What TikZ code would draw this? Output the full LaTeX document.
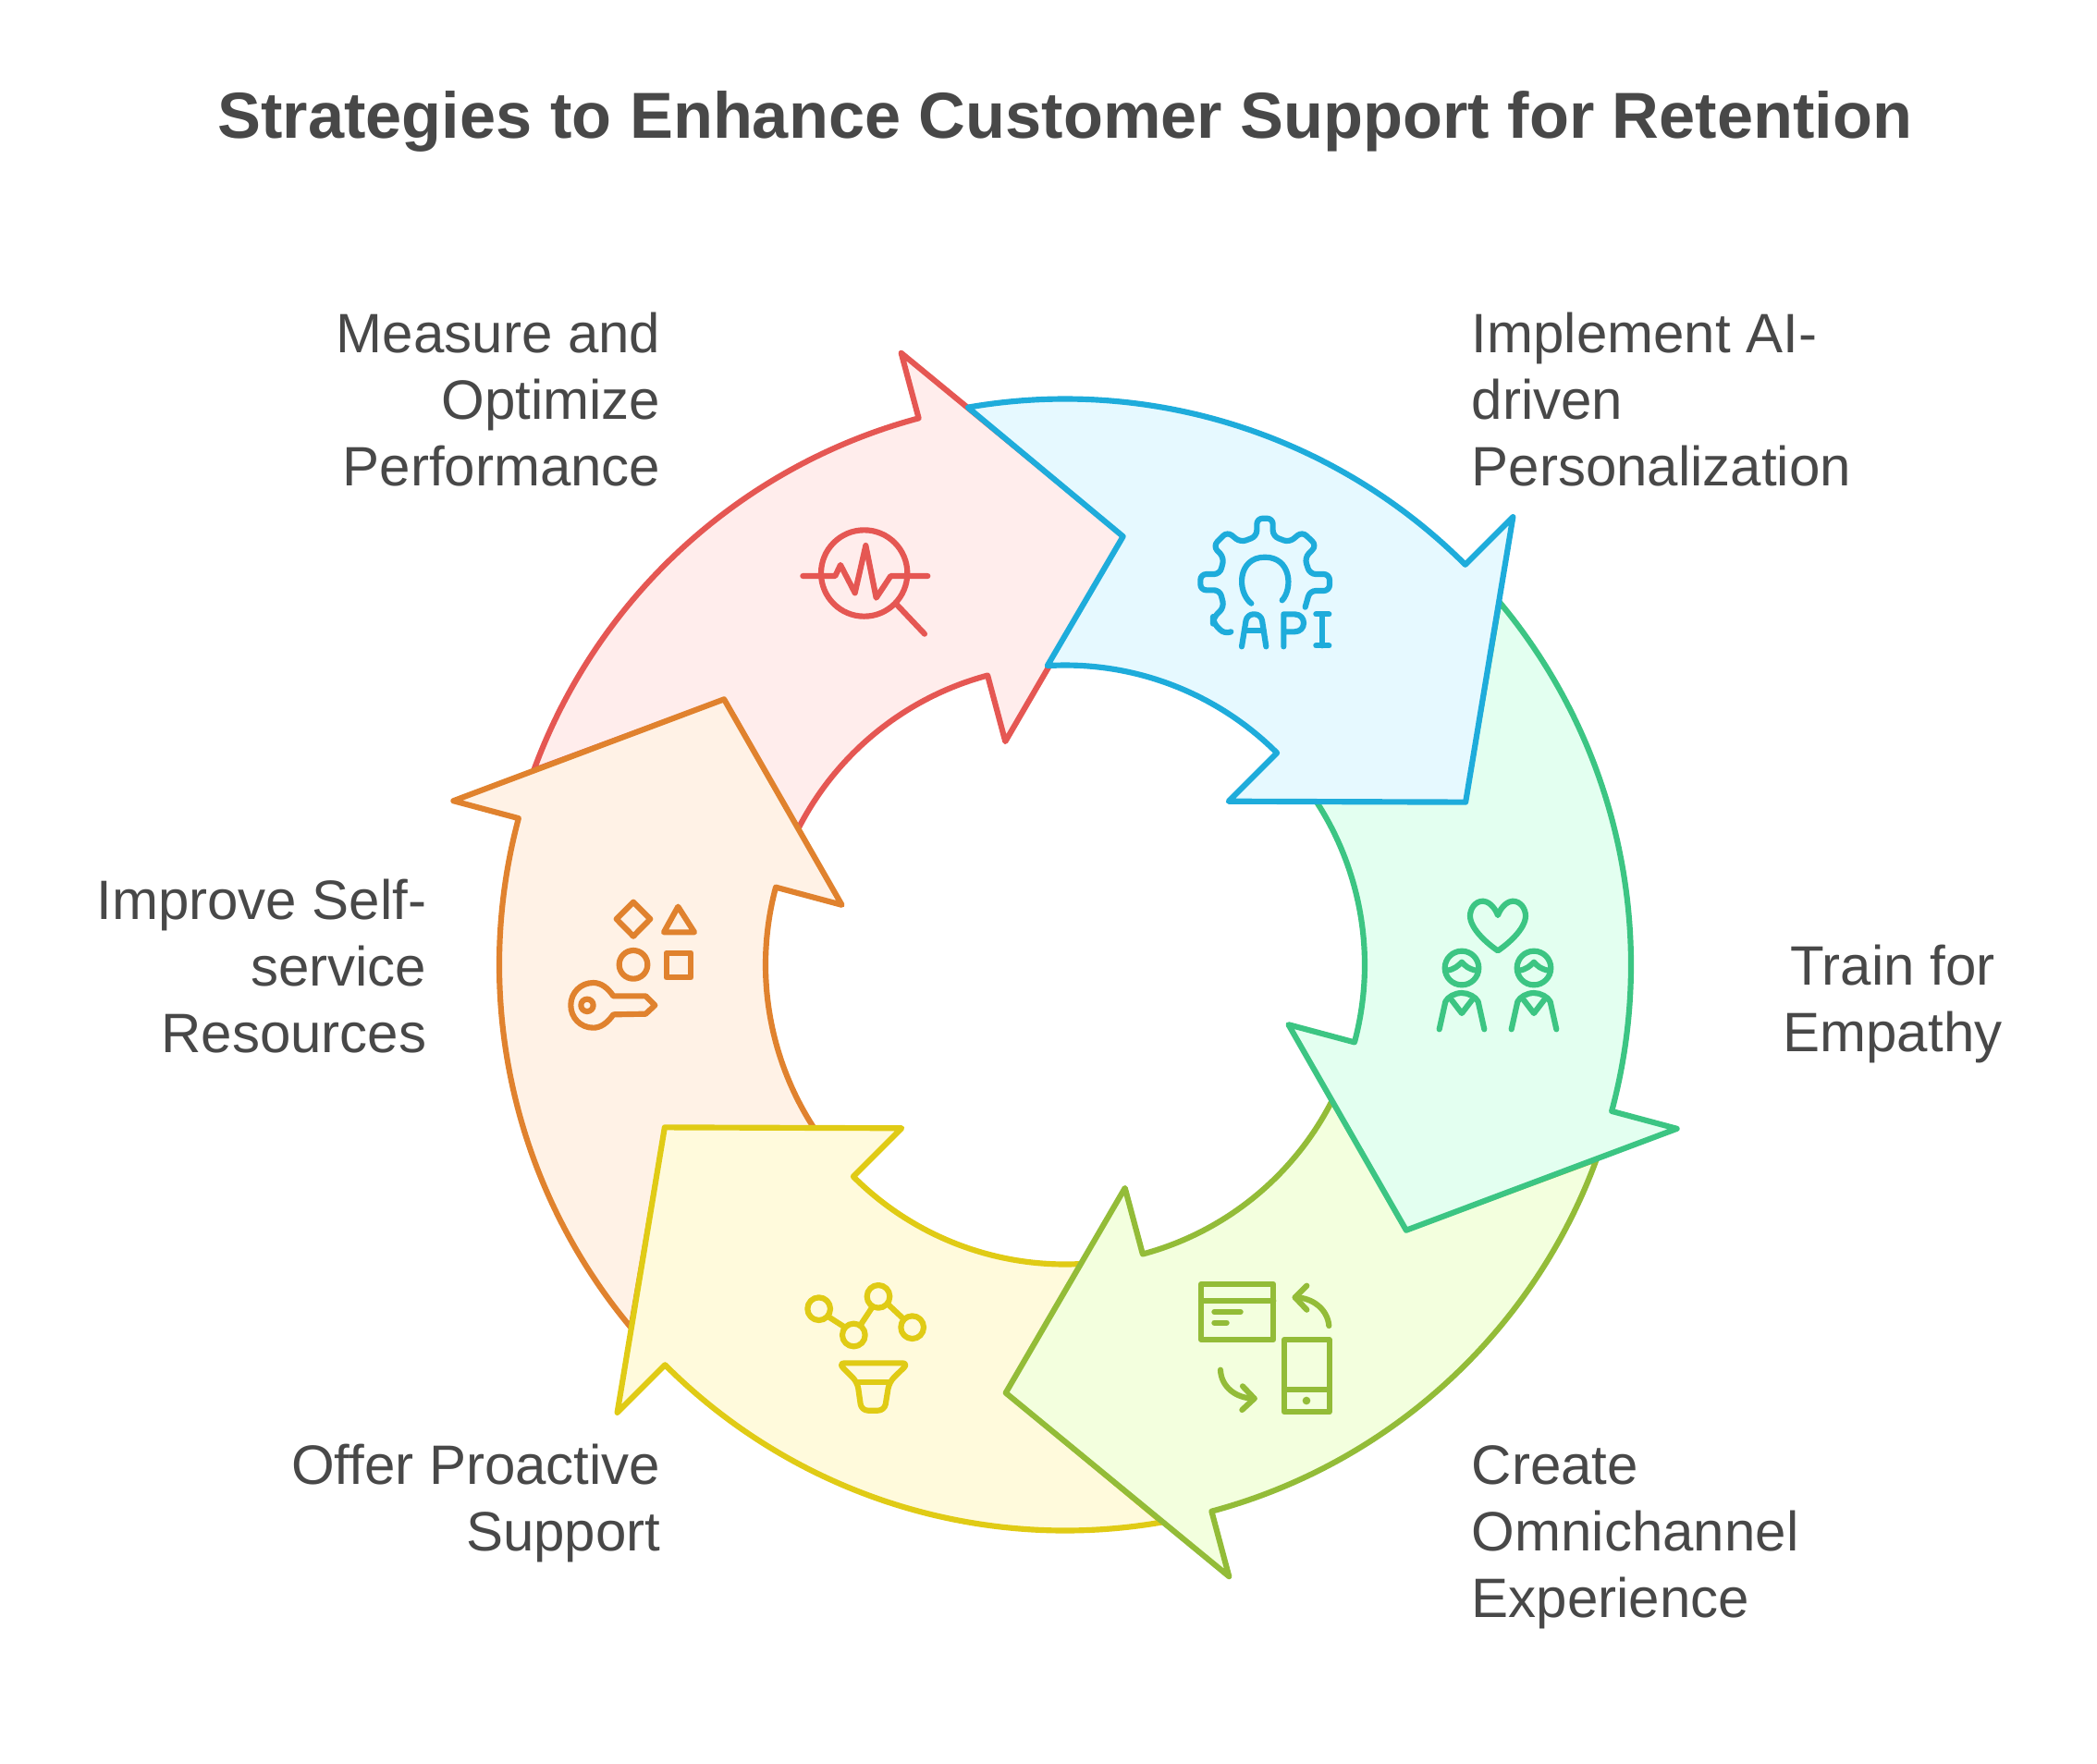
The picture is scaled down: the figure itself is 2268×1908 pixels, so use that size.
\documentclass[tikz,border=0pt]{standalone}
\usepackage{fontspec}
\setmainfont{Liberation Sans}
\definecolor{txt}{HTML}{484848}
\definecolor{bS}{HTML}{1EACDB}\definecolor{bF}{HTML}{E6F9FF}
\definecolor{rS}{HTML}{E55753}\definecolor{rF}{HTML}{FFEDEC}
\definecolor{oS}{HTML}{E0822E}\definecolor{oF}{HTML}{FFF2E6}
\definecolor{yS}{HTML}{E0CB15}\definecolor{yF}{HTML}{FFFADC}
\definecolor{lS}{HTML}{93BC38}\definecolor{lF}{HTML}{F3FFDE}
\definecolor{gS}{HTML}{3CC583}\definecolor{gF}{HTML}{E3FFF0}
\newcommand\lstrut{\rule{0pt}{0.5cm}}
\newcommand\ringarrow[3]{%
  \begin{scope}[shift={(1152,1043.5)},x=.01cm,y=.01cm,rotate=#1]
    \draw[seg,draw=#2,fill=#3] (99.9:612) arc[start angle=99.9,end angle=45,radius=612]
      -- (45:685) -- (22.1:467.5) -- (45:250) -- (45:324)
      arc[start angle=45,end angle=93.4,radius=324] -- (82.3:467.5) -- cycle;
  \end{scope}}
\tikzset{
  seg/.style={line width=1.75pt,line join=round,line cap=round},
  lab/.style={font=\fontsize{17.07}{20.48}\selectfont,text=txt,inner sep=0pt},
  ico/.style={line width=1.75pt,line join=round,line cap=round},
}
\begin{document}
\begin{tikzpicture}[x=.01cm,y=-.01cm]
\useasboundingbox (0,0) rectangle (2268,1908);
\ringarrow{60}{rS}{rF}
\ringarrow{120}{oS}{oF}
\ringarrow{180}{yS}{yF}
\ringarrow{240}{lS}{lF}
\ringarrow{300}{gS}{gF}
\ringarrow{0}{bS}{bF}

\node[font=\bfseries\fontsize{20}{24}\selectfont,text=txt,inner sep=0pt,anchor=base] (title) at (1152,149) {Strategies to Enhance Customer Support for Retention};
\node[lab,align=right,anchor=north east] (measure) at (715,331) {\lstrut Measure and\\Optimize\\Performance};
\node[lab,align=left,anchor=north west] (impl) at (1591,331) {\lstrut Implement AI-\\driven\\Personalization};
\node[lab,align=center,anchor=north] (train) at (2047,1015) {\lstrut Train for\\Empathy};
\node[lab,align=left,anchor=north west] (create) at (1591,1555) {\lstrut Create\\Omnichannel\\Experience};
\node[lab,align=right,anchor=north east] (offer) at (715,1555) {\lstrut Offer Proactive\\Support};
\node[lab,align=right,anchor=north east] (improve) at (462,944) {\lstrut Improve Self-\\service\\Resources};

% API icon
\begin{scope}[shift={(1250,520)},scale=1/3,ico]
\draw[bS,rounded corners=1.8pt] (244,490) -- (222,497) -- (186,460) -- (186,445) -- (222,410) -- (208,355) -- (145,355) -- (145,303) -- (208,303) -- (222,250) -- (186,212) -- (232,165) -- (275,200) -- (328,180) -- (328,122) -- (380,122) -- (380,180) -- (433,200) -- (475,165) -- (522,210) -- (483,250) -- (500,303) -- (564,303) -- (564,357) -- (500,357) -- (485,410);
\draw[bS] (310,398) .. controls (262,360) and (265,248) .. (354,248) .. controls (440,248) and (445,350) .. (410,388);
\draw[bS,rounded corners=2pt] (279,538) -- (296,433) -- (342,433) -- (358,538);
\draw[bS] (288,487) -- (350,487);
\draw[bS] (415,538) -- (415,433) -- (450,433) .. controls (490,433) and (490,490) .. (450,490) -- (415,490);
\draw[bS] (520,433) -- (562,433) (541,433) -- (541,535) (520,535) -- (562,535);
\end{scope}

% Measure icon
\begin{scope}[shift={(840,540)},scale=1/3,ico]
\draw[rS] (284,240) circle[radius=140];
\draw[rS] (85,249) -- (190,249) -- (207,213) -- (254,304) -- (289,150) -- (323,320) -- (370,249) -- (490,249);
\draw[rS] (388,340) -- (480,437);
\end{scope}

% Empathy icon
\begin{scope}[shift={(1530,950)},scale=1/3,ico]
\draw[gS] (270,120) .. controls (258,88) and (235,74) .. (222,74) .. controls (195,74) and (180,100) .. (180,122) .. controls (180,165) and (240,215) .. (270,235) .. controls (300,215) and (360,165) .. (360,122) .. controls (360,100) and (345,74) .. (318,74) .. controls (305,74) and (282,88) .. (270,120) -- cycle;
\foreach \d in {0,234}{
\begin{scope}[shift={(\d,0)}]
\draw[gS] (153,291) circle[radius=55];
\draw[gS] (102,300) .. controls (130,295) and (140,285) .. (153,272) .. controls (165,285) and (175,295) .. (204,300);
\draw[gS] (80,490) -- (100,400) .. controls (108,385) and (130,372) .. (153,372) .. controls (175,372) and (198,385) .. (206,400) -- (226,490);
\draw[gS] (120,395) -- (153,438) -- (186,395);
\end{scope}}
\end{scope}

% Omnichannel icon
\begin{scope}[shift={(1270,1360)},scale=1/3,ico]
\draw[lS] (87,87) rectangle (322,267);
\draw[lS] (87,140) -- (322,140) (130,177) -- (215,177) (130,212) -- (170,212);
\draw[lS] (357,267) rectangle (503,502);
\draw[lS] (357,428) -- (503,428);
\fill[lS] (429,465) circle[radius=13];
\draw[lS] (502,222) .. controls (498,170) and (450,130) .. (392,130);
\draw[lS] (430,92) -- (392,130) -- (430,170);
\draw[lS] (150,365) .. controls (152,420) and (200,458) .. (260,458);
\draw[lS] (222,418) -- (260,458) -- (220,495);
\end{scope}

% Proactive icon
\begin{scope}[shift={(850,1370)},scale=1/3,ico]
\draw[yS] (107,137) circle[radius=37] (220,222) circle[radius=37] (300,97) circle[radius=37] (410,197) circle[radius=37];
\draw[yS] (137,162) -- (190,196) (243,188) -- (278,135) (332,123) -- (382,170);
\draw[yS,rounded corners=2pt] (170,313) -- (398,313) -- (335,375) -- (320,467) -- (245,467) -- (232,375) -- cycle;
\draw[yS] (232,375) -- (335,375);
\end{scope}

% Self-service icon
\begin{scope}[shift={(600,960)},scale=1/3,ico]
\draw[oS] (255,47) -- (310,102) -- (255,158) -- (200,102) -- cycle;
\draw[oS] (400,62) -- (453,145) -- (354,145) -- cycle;
\draw[oS] (255,250) circle[radius=46];
\draw[oS] (362,212) rectangle (442,292);
\draw[oS] (190,352) .. controls (172,325) and (150,309) .. (125,309) .. controls (83,309) and (52,342) .. (52,382) .. controls (52,422) and (83,455) .. (125,455) .. controls (150,455) and (172,438) .. (190,412) -- (295,410) -- (325,382) -- (295,352) -- cycle;
\draw[oS] (105,382) circle[radius=20];
\end{scope}
\end{tikzpicture}
\end{document}
